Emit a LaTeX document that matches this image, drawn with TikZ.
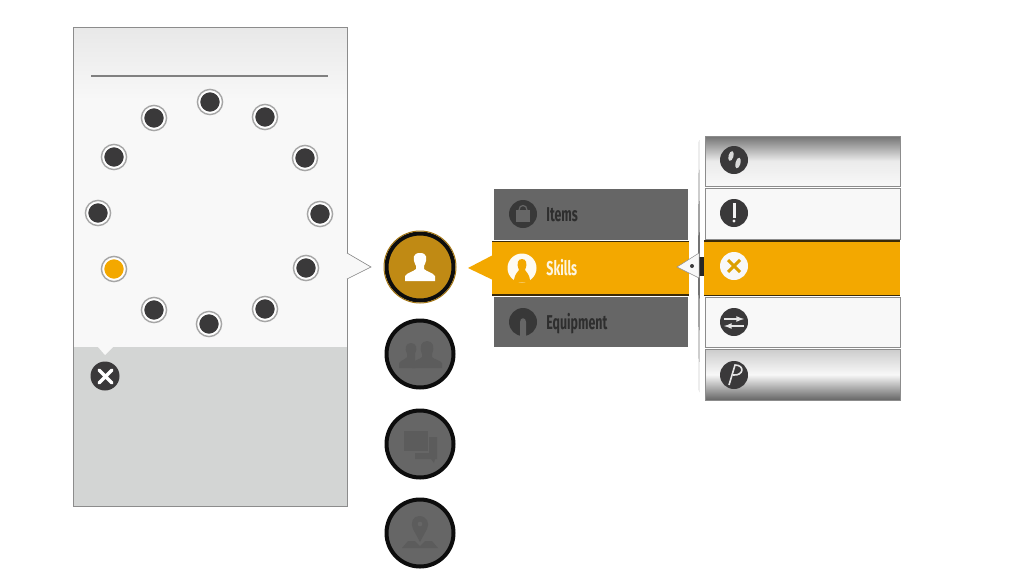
\documentclass[tikz,border=0pt]{standalone}
\usepackage{fontspec}
\usetikzlibrary{positioning}
\newfontfamily\menufont[FakeStretch=0.62]{Fira Sans Bold}
\definecolor{amber}{HTML}{F3A800}
\definecolor{amberdark}{HTML}{C08A14}
\definecolor{slate}{HTML}{666666}
\definecolor{ink}{HTML}{3A393A}
\definecolor{paper}{HTML}{F8F8F8}
\definecolor{fog}{HTML}{D3D5D4}
\definecolor{seam}{HTML}{3A2A08}
\tikzset{
  x=1pt,y=-1pt,
  dot/.style={circle,draw=white,line width=1.4pt,fill=ink,minimum size=21pt,inner sep=0pt},
  bigbtn/.style={circle,draw=black!95,line width=4pt,fill=slate,minimum size=67pt,inner sep=0pt},
  icon/.style={circle,fill=ink,minimum size=28pt,inner sep=0pt},
  menulabel/.style={font=\menufont\fontsize{20}{20}\selectfont,text=black!82,inner sep=0pt,text height=15pt,text depth=0pt},
  btnglyph/.style={fill=black!64}
}
\begin{document}
\begin{tikzpicture}
  \useasboundingbox[fill=white] (0,0) rectangle (1024,576);

  % --- Left panel ---
  \fill[top color=black!9,bottom color=paper,draw=none] (73,27) rectangle (347,100);
  \fill[paper] (73,100) rectangle (347,347);
  \fill[fog] (73,347) rectangle (347,506);
  \draw[black!45,line width=0.7pt] (347,253) -- (347,27) -- (73,27) -- (73,506) -- (347,506) -- (347,279);
  \fill[paper] (345,253) -- (371,267) -- (345,279) -- cycle;
  \draw[black!50,line width=0.6pt] (347,253) -- (371,267) -- (347,279);
  \draw[black!50,line width=1.1pt] (91,76) -- (328,76);
  \fill[paper] (98,347) -- (105,355) -- (113,347) -- cycle;

  % --- Ring of dots ---
  \foreach \name/\px/\py in {a/210/102,b/265/117,c/305/158,d/320/214,e/306/268,f/265/309,g/209/324,h/154/310,j/98/213,k/114/157,l/154/118}
    \node[dot] (dot\name) at (\px,\py) {};
  \node[dot,fill=amber] (dotOn) at (114,269) {};
  \foreach \name in {a,b,c,d,e,f,g,h,j,k,l,On}
    \draw[black!35,line width=1.4pt] (dot\name) circle (12.6);

  % --- Close button ---
  \node[icon,minimum size=29pt] (closeBtn) at (105,376) {};
  \draw[white,line width=3.4pt,line cap=round] (99,370) -- (112,383) (112,370) -- (99,383);

  % --- Big round buttons ---
  \node[bigbtn,fill=amberdark] (btnUser) at (420,267) {};
  \draw[amberdark!85!black,line width=1pt] (btnUser) circle (36);
  \node[bigbtn] (btnGroup) [below=16pt of btnUser] {};
  \node[bigbtn] (btnChat) at (420,444) {};
  \node[bigbtn] (btnMap) at (420,533) {};

  % --- Button glyphs ---
  \fill[white] (405,281) -- (405,276) .. controls (408,272) and (413,272) .. (416,269) -- (416,266)
    .. controls (412,258) and (413,253) .. (420,253) .. controls (427,253) and (428,258) .. (424,266)
    -- (424,269) .. controls (427,272) and (432,272) .. (435,276) -- (435,281) -- cycle;
  \fill[btnglyph] (399,368) -- (399,363) .. controls (401,360) and (405,360) .. (407,357) -- (407,354)
    .. controls (404,348) and (406,343) .. (411,343) .. controls (416,343) and (418,348) .. (415,354)
    -- (415,368) -- cycle;
  \fill[btnglyph] (412,368) -- (412,363) .. controls (414,360) and (419,360) .. (422,357) -- (422,354)
    .. controls (419,347) and (421,341) .. (427,341) .. controls (433,341) and (435,347) .. (432,354)
    -- (432,357) .. controls (435,360) and (440,360) .. (442,363) -- (442,368) -- cycle;
  \fill[btnglyph] (404,431) rectangle (428,451);
  \fill[btnglyph] (415,453) rectangle (437,459) (429,437) rectangle (437,453);
  \fill[btnglyph] (431,459) -- (435,459) -- (434,463) -- cycle;
  \fill[btnglyph,even odd rule] (419,516) .. controls (427,516) and (430,523) .. (427,529) -- (420,542) -- (413,529)
    .. controls (410,523) and (413,516) .. (419,516) -- cycle (420,524) circle (2.5);
  \fill[btnglyph] (402,548) -- (408,541) -- (415,541) -- (420,546) -- (425,541) -- (432,541) -- (438,548) -- cycle;

  % --- Middle menu ---
  \fill[slate] (494,189) rectangle (688,240);
  \fill[slate] (494,297) rectangle (688,347);
  \fill[seam] (492,240.5) rectangle (689,295.5);
  \fill[amber] (492,242) rectangle (689,294);
  \fill[amber] (493,255) -- (468,268) -- (493,280) -- cycle;

  \node[icon,fill=black!78,minimum size=28pt] (itemsIcon) at (523,214) {};
  \node[icon,fill=white!95!amber,minimum size=29pt] (skillsIcon) at (522,268) {};
  \node[icon,fill=black!78,minimum size=28pt] (equipIcon) at (523,322) {};
  \fill[slate] (516,210) rectangle (530,222);
  \draw[slate,line width=1.2pt] (519,210) .. controls (519,204) and (527,204) .. (527,210);
  \fill[amber] (514,282) .. controls (514,274) and (518,272) .. (519,270) .. controls (516,263) and (518,259) .. (522,259)
    .. controls (526,259) and (528,263) .. (525,270) .. controls (526,272) and (530,274) .. (530,282) -- cycle;
  \fill[slate] (520,336) -- (520,322) .. controls (520,317) and (526,317) .. (526,322) -- (526,336) -- cycle;

  \node[menulabel] (itemsLabel) [right=9pt of itemsIcon] {Items};
  \node[menulabel,text=white!88!amber] (skillsLabel) [right=9.5pt of skillsIcon] {Skills};
  \node[menulabel] (equipLabel) [right=9pt of equipIcon] {Equipment};

  % --- Right menu ---
  \fill[top color=black!55,bottom color=paper,middle color=black!8] (705,136) rectangle (900,186);
  \fill[paper] (705,188) rectangle (900,239);
  \fill[seam] (704,240) rectangle (900,296);
  \fill[amber] (704,241.5) rectangle (900,294.5);
  \fill[paper] (705,297) rectangle (900,347);
  \fill[top color=black!20,bottom color=black!60,middle color=paper] (705,349) rectangle (900,400);
  \foreach \ya/\yb in {136/186,188/239,297/347,349/400}
    \draw[black!45,line width=0.6pt] (705,\ya) rectangle (900,\yb);
  % tapered rule behind the pointer
  \fill[black!55] (699,140) -- (700,265) -- (699,392) -- (698,265) -- cycle;
  \fill[black!85] (699,257) rectangle (704,276);
  \fill[paper,draw=black!45,line width=0.5pt] (699,253) -- (677,267) -- (699,278) -- cycle;
  \fill[ink] (692,266) circle (2);

  \node[icon] (stepsIcon) at (734,160) {};
  \node[icon] (alertIcon) at (734,213) {};
  \node[icon,fill=paper] (crossIcon) at (734,266) {};
  \node[icon] (swapIcon) at (734,322) {};
  \node[icon] (penIcon) at (734,375) {};

  % --- Right menu glyphs ---
  \fill[black!15,rotate around={-15:(731,156)}] (731,156) ellipse (2.5 and 5);
  \fill[black!15,rotate around={-15:(738,163)}] (738,163) ellipse (2.5 and 5.5);
  \fill[black!5] (732.5,203) rectangle (735.5,218);
  \fill[black!5] (734,221) circle (1.6);
  \draw[amber!80!olive,line width=3pt] (728,260) -- (740,272) (740,260) -- (728,272);
  \draw[black!10,line width=1.6pt,-latex] (724,319) -- (744,319);
  \draw[black!10,line width=1.6pt,-latex] (744,326) -- (724,326);
  \draw[black!10,line width=1.6pt] (729,385) -- (735,365) .. controls (745,365) and (744,376) .. (733,375);
\end{tikzpicture}
\end{document}
